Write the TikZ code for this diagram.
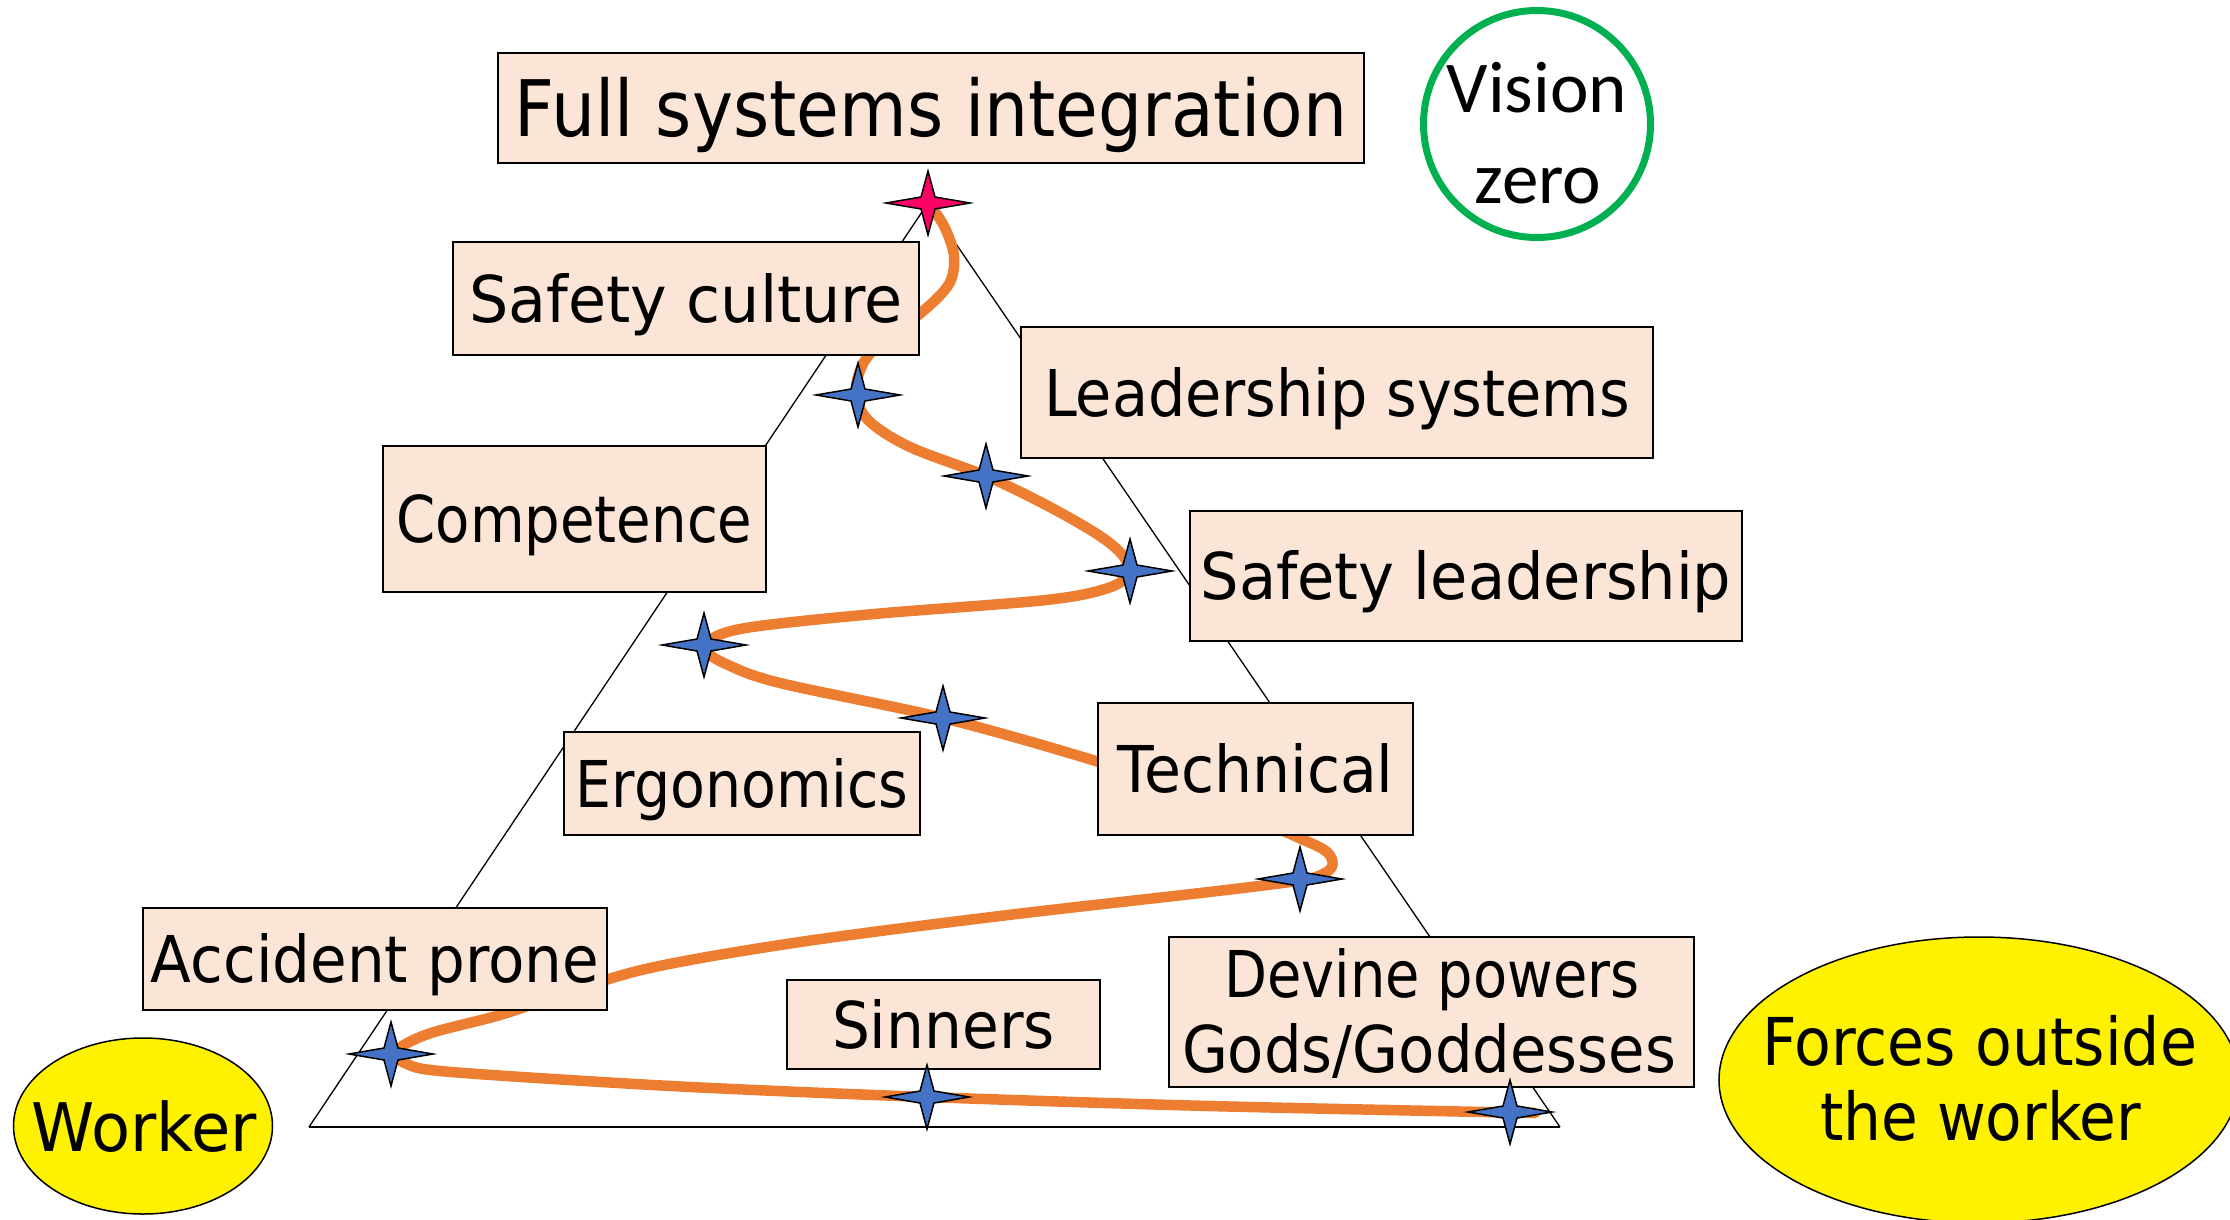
\documentclass[tikz,border=0pt]{standalone}
\usepackage{fontspec}
\usepackage{graphicx}
\setmainfont{DejaVu Sans}
\newfontfamily\calibfont{Carlito}
\usetikzlibrary{shapes.geometric}
\definecolor{boxfill}{RGB}{251,229,214}
\definecolor{starblue}{RGB}{68,114,196}
\definecolor{starpink}{RGB}{255,0,102}
\definecolor{curveorange}{RGB}{237,125,49}
\definecolor{vzgreen}{RGB}{0,176,80}
\newcommand\tw[2]{\resizebox{#1}{\height}{#2}}
\newcommand\sparklestar[2]{\filldraw[sparkle,fill=#2] (#1) +(42,0) -- +(7,-6) -- +(0,-32) -- +(-7,-6) -- +(-42,0) -- +(-7,6) -- +(0,32) -- +(7,6) -- cycle;}
\begin{document}
\begin{tikzpicture}[x=1pt,y=-1pt,
  box/.style={draw=black,line width=2pt,fill=boxfill,inner sep=0pt,text height=47pt,text depth=0pt,font=\fontsize{64.5}{77}\selectfont},
  btxt/.style={inner sep=0pt,anchor=base,font=\fontsize{64.5}{77}\selectfont},
  sparkle/.style={draw=black,line width=1.5pt,line join=miter},
  triline/.style={draw=black,line width=1.3pt},
  curve/.style={draw=curveorange,line width=10.5pt,line cap=round,line join=round},
  yell/.style={ellipse,draw=black,line width=1.5pt,fill=yellow,inner sep=0pt}]
\useasboundingbox (0,0) rectangle (2230,1220);
% triangle
\coordinate (apex) at (928,203);
\coordinate (bl) at (309,1127);
\coordinate (br) at (1560,1127);
\draw[triline] (apex) -- (bl);
\draw[triline] (apex) -- (br);
\draw[line width=2pt] (bl) -- (br);
% orange path
\draw[curve] plot[smooth,tension=0.55] coordinates {(928,203) (944,226) (954,256) (949,284) (922,312) (888,336) (864,362) (856,392) (868,420) (910,447) (986,476) (1048,506) (1100,536) (1124,557) (1128,574) (1108,588) (1046,600) (874,614) (752,627) (713,638) (707,651) (726,664) (780,683) (943,718) (1099,762) (1210,800) (1297,837) (1327,852) (1332,867) (1316,877) (1290,882) (1209,892) (1000,916) (800,942) (650,968) (560,995) (500,1015) (428,1034) (395,1052) (407,1064) (440,1071) (569,1080) (711,1088) (927,1097) (1209,1106) (1535,1113)};
% boxes
\node[box,minimum width=866,minimum height=110,text height=57pt,font=\fontsize{78}{94}\selectfont] (fsi) at (931,108) {\tw{832pt}{Full systems integration}};
\node[box,minimum width=466,minimum height=113] (sc) at (686,298.5) {\tw{434pt}{Safety culture}};
\node[box,minimum width=632,minimum height=131] (ls) at (1337,392.5) {\tw{586pt}{Leadership systems}};
\node[box,minimum width=383,minimum height=146] (comp) at (574.5,519) {\tw{356pt}{Competence}};
\node[box,minimum width=552,minimum height=130] (sl) at (1466,576) {\tw{531pt}{Safety leadership}};
\node[box,minimum width=356,minimum height=103] (erg) at (742,783.5) {\tw{333pt}{Ergonomics}};
\node[box,minimum width=315,minimum height=132] (tech) at (1255.5,769) {\tw{276pt}{Technical}};
\node[box,minimum width=464,minimum height=102] (acc) at (375,959) {\tw{448pt}{Accident prone}};
\node[box,minimum width=313,minimum height=89] (sin) at (943.5,1024.5) {\tw{223pt}{Sinners}};
\node[box,minimum width=525,minimum height=150] (dev) at (1431.5,1012) {};
\node[btxt] (dev1) at (1432,997) {\tw{415pt}{Devine powers}};
\node[btxt] (dev2) at (1429,1072) {\tw{494pt}{Gods/Goddesses}};
% stars
\coordinate (s1) at (928,203);
\coordinate (s2) at (858,395);
\coordinate (s3) at (986,476);
\coordinate (s4) at (1130,571);
\coordinate (s5) at (704,645);
\coordinate (s6) at (943,718);
\coordinate (s7) at (1300,879);
\coordinate (s8) at (391,1054);
\coordinate (s9) at (927,1097);
\coordinate (s10) at (1510,1112);
\sparklestar{s1}{starpink}
\sparklestar{s2}{starblue}
\sparklestar{s3}{starblue}
\sparklestar{s4}{starblue}
\sparklestar{s5}{starblue}
\sparklestar{s6}{starblue}
\sparklestar{s7}{starblue}
\sparklestar{s8}{starblue}
\sparklestar{s9}{starblue}
\sparklestar{s10}{starblue}
% ellipses
\node[yell,minimum width=259,minimum height=176] (worker) at (143,1126) {};
\node[btxt,font=\fontsize{67}{80}\selectfont] (workertxt) at (144.5,1151) {\tw{225pt}{Worker}};
\node[yell,minimum width=520,minimum height=286] (forces) at (1979,1080) {};
\node[btxt,font=\fontsize{66}{79}\selectfont] (forces1) at (1979.5,1065) {\tw{435pt}{Forces outside}};
\node[btxt,font=\fontsize{66}{79}\selectfont] (forces2) at (1980.5,1140) {\tw{321pt}{the worker}};
% vision zero
\node[circle,draw=vzgreen,line width=7pt,minimum size=227,inner sep=0pt] (vz) at (1537,124) {};
\node[inner sep=0pt,anchor=base,font=\calibfont\fontsize{73}{88}\selectfont] (vz1) at (1537,113) {Vision};
\node[inner sep=0pt,anchor=base,font=\calibfont\fontsize{73}{88}\selectfont] (vz2) at (1538,203) {zero};
\end{tikzpicture}
\end{document}
